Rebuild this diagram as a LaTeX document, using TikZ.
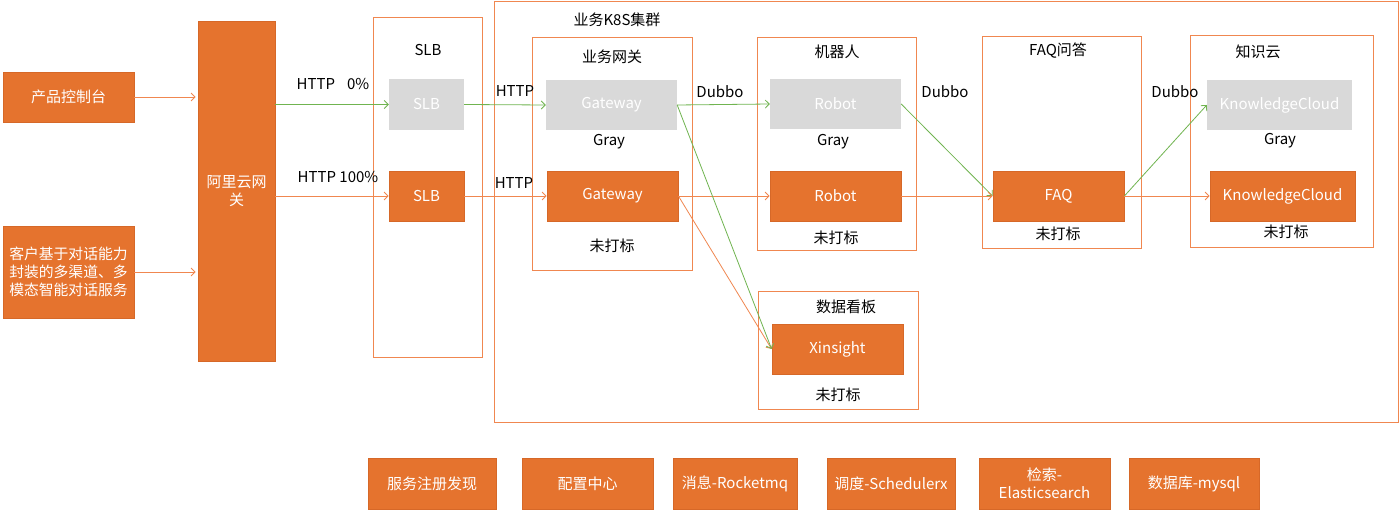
\documentclass[tikz,border=0pt]{standalone}
\usepackage{fontspec}
\setmainfont{Noto Sans CJK SC}
\usetikzlibrary{arrows.meta}
\definecolor{ofill}{RGB}{229,115,46}
\definecolor{oline}{RGB}{240,135,80}
\definecolor{odraw}{RGB}{214,104,40}
\definecolor{gfill}{RGB}{217,217,217}
\definecolor{gline}{RGB}{112,180,80}
\tikzset{
  obox/.style={draw=odraw, line width=0.8pt, fill=ofill, text=white, inner sep=1pt, font=\fontsize{15}{18}\selectfont},
  gbox/.style={fill=gfill, text=white, inner sep=1pt, font=\fontsize{15}{18}\selectfont},
  frame/.style={draw=oline, line width=1pt, fill=none},
  lbl/.style={text=black, inner sep=0pt, font=\fontsize{15}{18}\selectfont},
  oarr/.style={draw=oline, line width=0.8pt, -{Straight Barb[length=4pt,width=8pt]}},
  garr/.style={draw=gline, line width=0.8pt, -{Straight Barb[length=4pt,width=8pt]}},
}
\begin{document}
\begin{tikzpicture}[x=1pt,y=-1pt]
\useasboundingbox (0,0) rectangle (1400,510);
\fill[white] (0,0) rectangle (1400,510);
% frames
\node[frame, minimum width=904, minimum height=421, anchor=north west] (k8s) at (494,1) {};
\node[frame, minimum width=109, minimum height=340] (slbbox) at (427.5,188) {};
\node[frame, minimum width=160, minimum height=233] (gwbox) at (612,154.5) {};
\node[frame, minimum width=159, minimum height=213] (robox) at (836.5,144.5) {};
\node[frame, minimum width=159, minimum height=212] (faqbox) at (1061.5,143) {};
\node[frame, minimum width=183, minimum height=212] (kcbox) at (1281.5,142) {};
\node[frame, minimum width=160, minimum height=117] (xbox) at (838,350.5) {};
% left boxes
\node[obox, minimum width=131, minimum height=50] (c1) at (68.5,97) {产品控制台};
\node[obox, minimum width=131, minimum height=92, align=center, font=\fontsize{14.8}{18}\selectfont] (c2) at (68.5,272) {客户基于对话能力\\封装的多渠道、多\\模态智能对话服务};
\node[obox, minimum width=77, minimum height=340, align=center] (gw) at (236.5,191) {阿里云网\\关};
% SLB
\node[gbox, minimum width=75, minimum height=51] (slbg) at (426.5,104.5) {SLB};
\node[obox, minimum width=75, minimum height=50] (slbo) at (426.5,196) {SLB};
% gateway
\node[gbox, minimum width=131, minimum height=50] (gwg) at (611.5,105) {Gateway};
\node[obox, minimum width=131, minimum height=50] (gwo) at (612.5,196) {Gateway};
% robot
\node[gbox, minimum width=131, minimum height=50] (rog) at (835.5,104) {Robot};
\node[obox, minimum width=131, minimum height=50] (roo) at (835.5,196) {Robot};
% faq
\node[obox, minimum width=131, minimum height=50] (faq) at (1058.5,196) {FAQ};
% knowledge
\node[gbox, minimum width=145, minimum height=50] (kcg) at (1279.5,105) {KnowledgeCloud};
\node[obox, minimum width=145, minimum height=50] (kco) at (1282.5,196) {KnowledgeCloud};
% xinsight
\node[obox, minimum width=131, minimum height=50] (xin) at (837.5,349) {Xinsight};
% bottom row
\node[obox, minimum width=128, minimum height=51] (b1) at (432,483.5) {服务注册发现};
\node[obox, minimum width=131, minimum height=51] (b2) at (587.5,483.5) {配置中心};
\node[obox, minimum width=124, minimum height=51] (b3) at (735,483.5) {消息-Rocketmq};
\node[obox, minimum width=128, minimum height=51] (b4) at (891,483.5) {调度-Schedulerx};
\node[obox, minimum width=131, minimum height=51, align=center, font=\fontsize{15}{18}\selectfont] (b5) at (1044.5,483.5) {检索-\\Elasticsearch};
\node[obox, minimum width=130, minimum height=51] (b6) at (1194,483.5) {数据库-mysql};
% labels
\node[lbl] (tk8s) at (617,20) {业务K8S集群};
\node[lbl] (tslb) at (428,50) {SLB};
\node[lbl] (tgw) at (612,57) {业务网关};
\node[lbl] (tro) at (837,52) {机器人};
\node[lbl] (tfaq) at (1058,51) {FAQ问答};
\node[lbl] (tkc) at (1258,52) {知识云};
\node[lbl] (txb) at (846,307) {数据看板};
\node[lbl] (h0) at (333,84) {HTTP\hspace{0.8em}0\%};
\node[lbl] (h100) at (338,177) {HTTP 100\%};
\node[lbl] (h1) at (515,91) {HTTP};
\node[lbl] (h2) at (514,183) {HTTP};
\node[lbl] (d1) at (720,92) {Dubbo};
\node[lbl] (d2) at (945,92) {Dubbo};
\node[lbl] (d3) at (1175,92) {Dubbo};
\node[lbl] (g1) at (609,142) {Gray};
\node[lbl] (g2) at (833,142) {Gray};
\node[lbl] (g3) at (1280,141) {Gray};
\node[lbl] (u1) at (612,246) {未打标};
\node[lbl] (u2) at (836,238) {未打标};
\node[lbl] (u3) at (1058,234) {未打标};
\node[lbl] (u4) at (1286,232) {未打标};
\node[lbl] (u5) at (838,395) {未打标};
% connectors
\draw[oarr] (c1.east) -- ([xshift=-2pt]c1.east -| gw.west);
\draw[oarr] (c2.east) -- ([xshift=-2pt]c2.east -| gw.west);
\draw[garr] (slbg.west -| gw.east) -- (slbg.west);
\draw[oarr] (slbo.west -| gw.east) -- (slbo.west);
\draw[garr] (slbg.east) -- (gwg.west);
\draw[oarr] (slbo.east) -- (gwo.west);
\draw[garr] (gwg.east) -- (rog.west);
\draw[oarr] (gwo.east) -- (roo.west);
\draw[oarr] (gwo.east) -- (xin.west);
\draw[garr] (gwg.east) -- (xin.west);
\draw[garr] (rog.east) -- (faq.west);
\draw[oarr] (roo.east) -- (faq.west);
\draw[garr] (faq.east) -- (kcg.west);
\draw[oarr] (faq.east) -- (kco.west);
\end{tikzpicture}
\end{document}
